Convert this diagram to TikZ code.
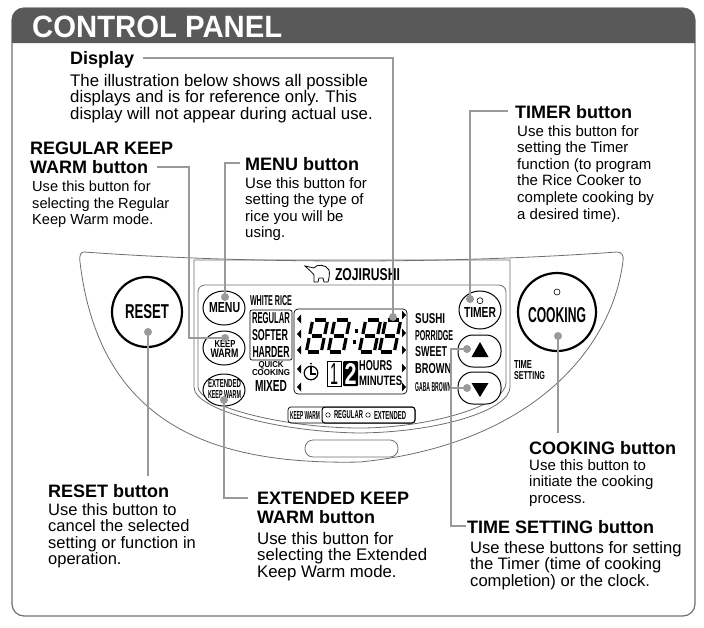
\documentclass[tikz,border=0pt]{standalone}
\usepackage{graphicx}
\usepackage{fontspec}
\setmainfont{Liberation Sans}
\newcommand{\pl}[3]{\resizebox{#1pt}{#2pt}{\bfseries #3}}
\definecolor{hdr}{HTML}{595959}
\definecolor{frm}{HTML}{6E6E6E}
\definecolor{conn}{HTML}{9A9A9A}
\tikzset{
  head/.style={anchor=north west,align=left,inner sep=0pt,font=\fontsize{18}{18.8}\selectfont\bfseries},
  body/.style={anchor=north west,align=left,inner sep=0pt,font=\fontsize{#1}{16.6}\selectfont},
  body/.default=15,
  plab/.style={inner sep=0pt,anchor=center},
  cline/.style={draw=conn,line width=1.7pt},
  pdot/.style={circle,fill=conn,inner sep=0pt,minimum size=8pt},
  panel/.style={draw=frm,line width=.8pt},
  btn/.style={draw=black,line width=1pt,fill=white},
  tri/.style={fill=black},
}
\begin{document}
\begin{tikzpicture}[x=1pt,y=-1pt]
\useasboundingbox (0,0) rectangle (704,627);
% frame and header
\draw[frm,line width=1.2pt,rounded corners=12pt] (12,8) rectangle (695,616);
\fill[hdr] (12,43) -- (12,20) .. controls (12,13) and (17,8) .. (24,8) -- (683,8) .. controls (690,8) and (695,13) .. (695,20) -- (695,43) -- cycle;
\node[inner sep=0pt,anchor=base west,text=white] (title) at (32,37) {\resizebox{250pt}{21.5pt}{\bfseries CONTROL PANEL}};
% appliance outline
\draw[panel] (84,252) .. controls (250,264) and (450,264) .. (617,252) .. controls (622,252) and (624,256) .. (623,261)
  .. controls (612,350) and (530,445) .. (360,462) .. controls (220,465) and (100,430) .. (80,262)
  .. controls (79,255) and (81,252) .. (84,252) -- cycle;
\draw[panel] (194,260) -- (194,387) .. controls (194,410) and (280,432) .. (360,433) .. controls (440,432) and (510,410) .. (510,387) -- (510,260) -- cycle;
\draw[panel] (198,292) .. controls (198,288) and (201,285) .. (205,285) -- (498,285) .. controls (503,285) and (506,288) .. (506,292) -- (506,383) .. controls (506,405) and (430,428) .. (360,428) .. controls (280,428) and (198,405) .. (198,387) -- cycle;
\draw[panel,rounded corners=8pt] (305,440) rectangle (398,457);
% big buttons
\node[circle,draw=black,line width=2.2pt,minimum size=70pt,inner sep=0pt] (resetBtn) at (147,312) {};
\node[plab] (resetTxt) at (147,312) {\pl{44}{14}{RESET}};
\node[circle,draw=black,line width=2.2pt,minimum size=78pt,inner sep=0pt] (cookBtn) at (557,312) {};
\node[plab] (cookTxt) at (557,315) {\pl{58}{15}{COOKING}};
\node[circle,draw=black,line width=.6pt,minimum size=6pt,inner sep=0pt] (cookLed) at (557,292) {};
\node[plab] (tsA) at (523,364) {\pl{18}{8}{TIME}};
\node[plab] (tsB) at (529.5,375.5) {\pl{31}{8}{SETTING}};
% small buttons
\draw[btn] (224,308) ellipse (21 and 17);
\draw[btn] (224,348) ellipse (21 and 17);
\draw[btn] (224,390) ellipse (21 and 16);
\draw[btn] (480,310) ellipse (21 and 19);
\draw[btn,rounded corners=15pt] (458,335) rectangle (501,367);
\draw[btn,rounded corners=15pt] (458,372) rectangle (501,404);
\node[plab] (menuTxt) at (224.7,308) {\pl{31}{10}{MENU}};
\node[plab] (keepTxt) at (225,343.5) {\pl{21}{7}{KEEP}};
\node[plab] (warmTxt) at (224.5,353.5) {\pl{28}{8.5}{WARM}};
\node[plab] (extTxt) at (224.5,383.5) {\pl{33}{8}{EXTENDED}};
\node[plab] (keepWTxt) at (224.5,394) {\pl{33}{8}{KEEP WARM}};
\node[plab] (timerTxt) at (480,312.5) {\pl{32}{10}{TIMER}};
\node[circle,draw=black,line width=.6pt,minimum size=6pt,inner sep=0pt] (timerLed) at (480,300.7) {};
\fill[tri] (480,342) -- (488.5,357) -- (471.5,357) -- cycle;
\fill[tri] (480,397) -- (488.5,383) -- (471.5,383) -- cycle;
% left labels
\node[plab] (white) at (271,301) {\pl{42}{10}{WHITE RICE}};
\draw[black,line width=.7pt,rounded corners=2pt] (250,310) rectangle (292,360);
\node[plab] (reg) at (271,318) {\pl{38}{11}{REGULAR}};
\node[plab] (soft) at (270,335) {\pl{36}{11}{SOFTER}};
\node[plab] (hard) at (271,352) {\pl{37}{11}{HARDER}};
\node[plab] (quick) at (271,365.5) {\pl{25}{6}{QUICK}};
\node[plab] (cooking) at (271,373) {\pl{38}{6}{COOKING}};
\node[plab] (mixed) at (271,386) {\pl{32}{11}{MIXED}};
% LCD
\draw[black,line width=.7pt,rounded corners=4pt] (294,309) rectangle (407,394);
\foreach \yy in {319,334,350,369,387} \fill[tri] (297,\yy) -- (301,{\yy-4.5}) -- (301,{\yy+4.5}) -- cycle;
\foreach \yy in {315,333,350,368,387} \fill[tri] (406,\yy) -- (402,{\yy-4.5}) -- (402,{\yy+4.5}) -- cycle;
\foreach \cx in {317,339,370,390}{
  \foreach \a/\b/\c/\d in {-5.5/-16/5.5/-16,-5/0/5/0,-5.5/16/5.5/16,-7.5/-14/-7.5/-2,7.5/-14/7.5/-2,-7.5/2/-7.5/14,7.5/2/7.5/14}{
    \draw[black,line width=3.2pt] ({\cx+\a-.2*\b},{336+\b}) -- ({\cx+\c-.2*\d},{336+\d});
  }
}
\fill[black] (355,329) rectangle (358,332.5);
\fill[black] (352.5,340) rectangle (355.5,343.5);
\draw[black,line width=1.2pt] (311,373) circle (6.8);
\draw[black,line width=1.1pt] (311,367) -- (311,374) -- (316,374);
\fill[black] (311,363.5) circle (1);
\draw[black,line width=.8pt] (327,361) rectangle (341,386);
\node[plab] (one) at (334,373.5) {\resizebox{8pt}{21pt}{1}};
\fill[black,rounded corners=1pt] (343,361) rectangle (358,386);
\node[plab,text=white] (two) at (350.5,373.5) {\resizebox{12pt}{21pt}{\bfseries 2}};
\node[plab,anchor=west] (hours) at (359,366) {\pl{33}{10}{HOURS}};
\node[plab,anchor=west] (minutes) at (359,381) {\pl{43}{9.5}{MINUTES}};
% right labels
\node[plab,anchor=west] (sushi) at (415,319) {\pl{30}{10}{SUSHI}};
\node[plab,anchor=west] (porr) at (415,336) {\pl{38}{10}{PORRIDGE}};
\node[plab,anchor=west] (sweet) at (415,352) {\pl{32}{10}{SWEET}};
\node[plab,anchor=west] (brown) at (415,369) {\pl{36}{10}{BROWN}};
\node[plab,anchor=west] (gaba) at (415,387) {\pl{36}{9}{GABA BROWN}};
% logo
\draw[black,line width=.8pt,fill=white] (305,266) -- (314,268) .. controls (316,264) and (326,264) .. (329,270) .. controls (330,274) and (329,278) .. (328,282) -- (324,282) -- (323,278) -- (319,278) -- (318,282) -- (314,282) -- (314,275) .. controls (312,272) and (309,270) .. cycle;
\node[plab] (zoji) at (367.5,275) {\pl{65}{12}{ZOJIRUSHI}};
% keep warm bar
\draw[black,line width=.7pt,rounded corners=3pt] (288,407) rectangle (415,423);
\draw[black,line width=1pt,rounded corners=3pt] (322,407) rectangle (415,423);
\node[plab] (kwLab) at (305,415) {\pl{30}{8}{KEEP WARM}};
\node[circle,draw=black,line width=.5pt,minimum size=4.5pt,inner sep=0pt] (kwA) at (328,415) {};
\node[plab] (kwReg) at (348.5,415) {\pl{29}{8}{REGULAR}};
\node[circle,draw=black,line width=.5pt,minimum size=4.5pt,inner sep=0pt] (kwB) at (368,415) {};
\node[plab] (kwExt) at (390,415) {\pl{32}{8}{EXTENDED}};
% text blocks
\node[head] (hDisp) at (70,51) {Display};
\node[body=16.8] (bDisp) at (70,74) {The illustration below shows all possible\\displays and is for reference only. This\\display will not appear during actual use.};
\node[head] (hReg) at (30,142) {REGULAR KEEP\\WARM button};
\node[body=14.6] (bReg) at (32,181) {Use this button for\\selecting the Regular\\Keep Warm mode.};
\node[head] (hMenu) at (245,157) {MENU button};
\node[body] (bMenu) at (245,177) {Use this button for\\setting the type of\\rice you will be\\using.};
\node[head] (hTimer) at (515,105) {TIMER button};
\node[body] (bTimer) at (517,125) {Use this button for\\setting the Timer\\function (to program\\the Rice Cooker to\\complete cooking by\\a desired time).};
\node[head] (hReset) at (48,484) {RESET button};
\node[body=16.5] (bReset) at (48,503) {Use this button to\\cancel the selected\\setting or function in\\operation.};
\node[head] (hExt) at (257,492) {EXTENDED KEEP\\WARM button};
\node[body=16.8] (bExt) at (257,532) {Use this button for\\selecting the Extended\\Keep Warm mode.};
\node[head] (hCook) at (529,441) {COOKING button};
\node[body] (bCook) at (529,459) {Use this button to\\initiate the cooking\\process.};
\node[head] (hTime) at (467,520) {TIME SETTING button};
\node[body=16.6] (bTime) at (470,541) {Use these buttons for setting\\the Timer (time of cooking\\completion) or the clock.};
% connector ends
\coordinate (eDisp) at (143,58);
\coordinate (eMenu) at (240,163);
\coordinate (eReg) at (157,167);
\coordinate (jReg) at (189,167);
\coordinate (eTimer) at (508,111);
\coordinate (eReset) at (148,476);
\coordinate (eExt) at (248,498);
\coordinate (eCook) at (558,433);
\coordinate (eTime) at (466,526);
\coordinate (jTime) at (451,526);
% dots
\node[pdot] (dDisp) at (393,317) {};
\node[pdot] (dMenu) at (225,297) {};
\node[pdot] (dKeep) at (225,338) {};
\node[pdot] (dExt) at (224,400) {};
\node[pdot] (dReset) at (148,332) {};
\node[pdot] (dCook) at (558,336) {};
\node[pdot] (dTimer) at (470,299) {};
\node[pdot] (dUp) at (467,349) {};
\node[pdot] (dDown) at (467,388) {};
% connectors
\draw[cline] (eDisp) -| (dDisp.center);
\draw[cline] (eMenu) -| (dMenu.center);
\draw[cline] (eReg) -- (jReg) |- (dKeep.center);
\draw[cline] (eTimer) -| (dTimer.center);
\draw[cline] (dReset.center) -- (eReset);
\draw[cline] (dExt.center) |- (eExt);
\draw[cline] (dCook.center) -- (eCook);
\draw[cline] (dUp.center) -- (jTime |- dUp.center) -- (jTime) -- (eTime);
\draw[cline] (dDown.center) -- (jTime |- dDown.center);
\end{tikzpicture}
\end{document}
